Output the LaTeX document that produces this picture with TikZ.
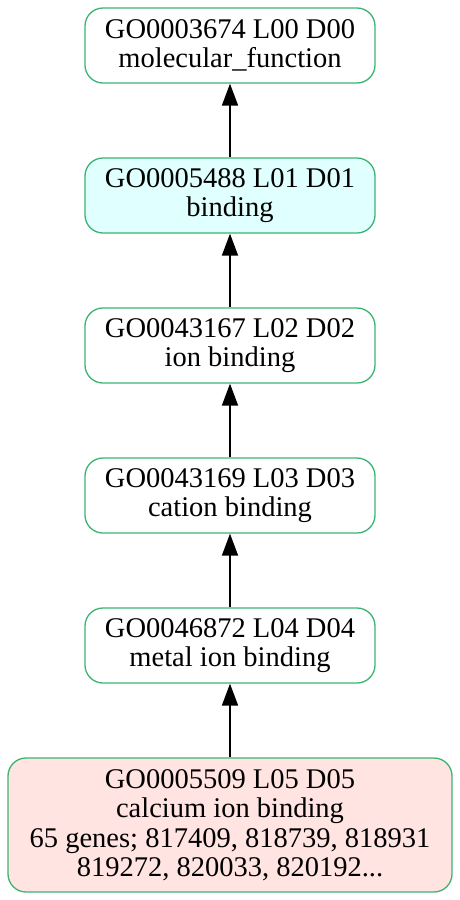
\documentclass[tikz,border=0pt]{standalone}
\usepackage{fontspec}
\setmainfont{Liberation Serif}
\usetikzlibrary{arrows.meta}
\definecolor{goline}{HTML}{3CB371}
\definecolor{gocyan}{HTML}{E0FFFF}
\definecolor{gorose}{HTML}{FFE4E1}

\begin{document}
\begin{tikzpicture}[x=1pt,y=1pt,
  term/.style={draw=goline,line width=1.3pt,rounded corners=18pt,align=center,
    minimum width=290pt,minimum height=75pt,inner sep=0pt,
    font=\fontsize{28.5}{29.5}\selectfont},
  isa/.style={-{Triangle[length=22pt,width=16pt]},line width=1.6pt}]
\useasboundingbox (0,0) rectangle (460,-900);
\node[term] (mf) at (230,-45.5) {GO0003674 L00 D00\\molecular\_function};
\node[term,fill=gocyan] (bind) at (230,-195.5) {GO0005488 L01 D01\\binding};
\node[term] (ion) at (230,-345.5) {GO0043167 L02 D02\\ion binding};
\node[term] (cat) at (230,-495.5) {GO0043169 L03 D03\\cation binding};
\node[term] (metal) at (230,-645.5) {GO0046872 L04 D04\\metal ion binding};
\node[term,fill=gorose,minimum width=444pt,minimum height=134pt] (calc) at (230,-825)
  {GO0005509 L05 D05\\calcium ion binding\\65 genes; 817409, 818739, 818931\\819272, 820033, 820192...};
% is_a edges, child -> parent
\draw[isa] (bind) -- (mf);
\draw[isa] (ion) -- (bind);
\draw[isa] (cat) -- (ion);
\draw[isa] (metal) -- (cat);
\draw[isa] (calc) -- (metal);
\end{tikzpicture}
\end{document}
